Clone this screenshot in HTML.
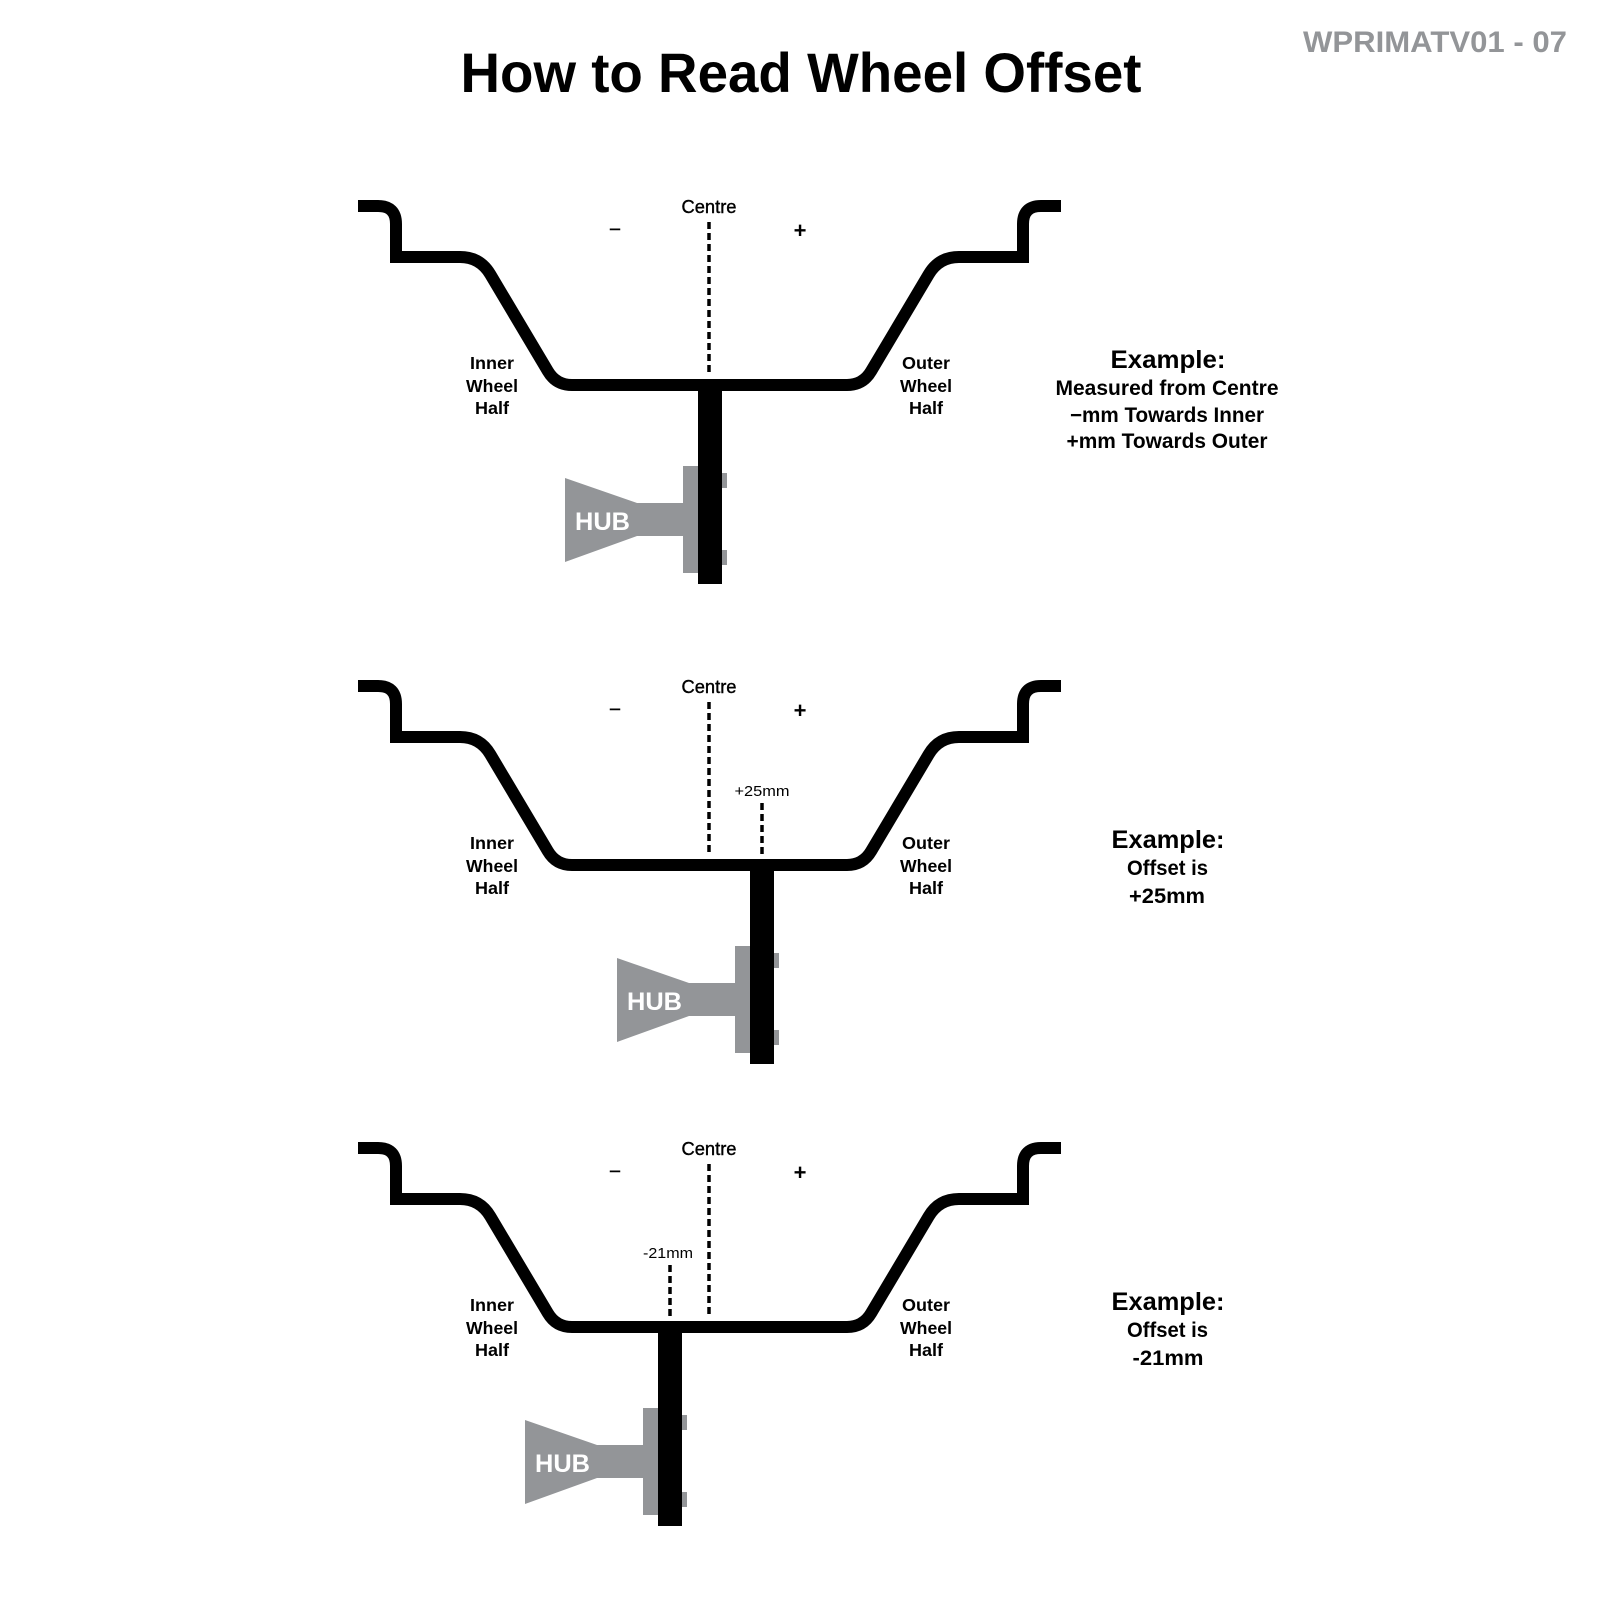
<!DOCTYPE html>
<html>
<head>
<meta charset="utf-8">
<style>
  html, body { margin: 0; padding: 0; background: #ffffff; }
  svg { display: block; }
  text { font-family: "Liberation Sans", "DejaVu Sans", sans-serif; }
  .b { font-weight: bold; }
</style>
</head>
<body>
<svg width="1600" height="1600" viewBox="0 0 1600 1600" xmlns="http://www.w3.org/2000/svg">
  <rect width="1600" height="1600" fill="#ffffff"/>

  <!-- Title -->
  <text x="801" y="92" font-size="56" class="b" text-anchor="middle" textLength="681" lengthAdjust="spacingAndGlyphs" fill="#000">How to Read Wheel Offset</text>
  <text x="1435" y="52" font-size="30" class="b" text-anchor="middle" textLength="264" lengthAdjust="spacingAndGlyphs" fill="#939598">WPRIMATV01 - 07</text>

  <!-- ================= Diagram 1 ================= -->
  <g transform="translate(0,0)">
    <path d="M358,206 L378,206 Q396,206 396,224 L396,257 L460,257 Q480,257 490.2,274.2 L547.9,371.2 Q556,385 572,385 L847,385 Q863,385 871.1,371.2 L928.8,274.2 Q939,257 959,257 L1023,257 L1023,224 Q1023,206 1041,206 L1061,206"
          fill="none" stroke="#000" stroke-width="12" stroke-linejoin="miter" stroke-miterlimit="10"/>
    <line x1="709" y1="222" x2="709" y2="375" stroke="#000" stroke-width="3.5" stroke-dasharray="7 4"/>
    <text x="709" y="213" font-size="18" text-anchor="middle" textLength="55" lengthAdjust="spacingAndGlyphs" fill="#000" stroke="#000" stroke-width="0.4">Centre</text>
    <text x="615" y="234" font-size="18" text-anchor="middle" fill="#000" stroke="#000" stroke-width="0.5">–</text>
    <text x="800" y="238" font-size="22" class="b" text-anchor="middle" fill="#000">+</text>

    <text x="492" y="369" font-size="17.5" class="b" text-anchor="middle" textLength="44" lengthAdjust="spacingAndGlyphs">Inner</text>
    <text x="492" y="392" font-size="17.5" class="b" text-anchor="middle" textLength="52" lengthAdjust="spacingAndGlyphs">Wheel</text>
    <text x="492" y="414" font-size="17.5" class="b" text-anchor="middle" textLength="34" lengthAdjust="spacingAndGlyphs">Half</text>
    <text x="926" y="369" font-size="17.5" class="b" text-anchor="middle" textLength="48" lengthAdjust="spacingAndGlyphs">Outer</text>
    <text x="926" y="392" font-size="17.5" class="b" text-anchor="middle" textLength="52" lengthAdjust="spacingAndGlyphs">Wheel</text>
    <text x="926" y="414" font-size="17.5" class="b" text-anchor="middle" textLength="34" lengthAdjust="spacingAndGlyphs">Half</text>

    <text x="1168" y="368" font-size="25" class="b" text-anchor="middle" textLength="115" lengthAdjust="spacingAndGlyphs">Example:</text>
    <text x="1167" y="395" font-size="21" class="b" text-anchor="middle" textLength="223" lengthAdjust="spacingAndGlyphs">Measured from Centre</text>
    <text x="1167" y="422" font-size="21" class="b" text-anchor="middle" textLength="194" lengthAdjust="spacingAndGlyphs">−mm Towards Inner</text>
    <text x="1167" y="448" font-size="21" class="b" text-anchor="middle" textLength="201" lengthAdjust="spacingAndGlyphs">+mm Towards Outer</text>

    <g transform="translate(0,0)">
      <polygon points="565,478 637,503 683,503 683,536 637,536 565,562" fill="#939598"/>
      <rect x="683" y="466" width="16" height="107" fill="#939598"/>
      <rect x="721" y="473" width="6" height="15" fill="#939598"/>
      <rect x="721" y="550" width="6" height="15" fill="#939598"/>
      <rect x="698" y="385" width="24" height="199" fill="#000"/>
      <text x="575" y="530" font-size="25" class="b" textLength="55" lengthAdjust="spacingAndGlyphs" fill="#ffffff">HUB</text>
    </g>
  </g>

  <!-- ================= Diagram 2 ================= -->
  <g transform="translate(0,480)">
    <path d="M358,206 L378,206 Q396,206 396,224 L396,257 L460,257 Q480,257 490.2,274.2 L547.9,371.2 Q556,385 572,385 L847,385 Q863,385 871.1,371.2 L928.8,274.2 Q939,257 959,257 L1023,257 L1023,224 Q1023,206 1041,206 L1061,206"
          fill="none" stroke="#000" stroke-width="12" stroke-linejoin="miter" stroke-miterlimit="10"/>
    <line x1="709" y1="222" x2="709" y2="375" stroke="#000" stroke-width="3.5" stroke-dasharray="7 4"/>
    <line x1="762" y1="323" x2="762" y2="375" stroke="#000" stroke-width="3.5" stroke-dasharray="7 4"/>
    <text x="709" y="213" font-size="18" text-anchor="middle" textLength="55" lengthAdjust="spacingAndGlyphs" fill="#000" stroke="#000" stroke-width="0.4">Centre</text>
    <text x="615" y="234" font-size="18" text-anchor="middle" fill="#000" stroke="#000" stroke-width="0.5">–</text>
    <text x="800" y="238" font-size="22" class="b" text-anchor="middle" fill="#000">+</text>
    <text x="762" y="316" font-size="15" text-anchor="middle" textLength="55" lengthAdjust="spacingAndGlyphs" fill="#000">+25mm</text>

    <text x="492" y="369" font-size="17.5" class="b" text-anchor="middle" textLength="44" lengthAdjust="spacingAndGlyphs">Inner</text>
    <text x="492" y="392" font-size="17.5" class="b" text-anchor="middle" textLength="52" lengthAdjust="spacingAndGlyphs">Wheel</text>
    <text x="492" y="414" font-size="17.5" class="b" text-anchor="middle" textLength="34" lengthAdjust="spacingAndGlyphs">Half</text>
    <text x="926" y="369" font-size="17.5" class="b" text-anchor="middle" textLength="48" lengthAdjust="spacingAndGlyphs">Outer</text>
    <text x="926" y="392" font-size="17.5" class="b" text-anchor="middle" textLength="52" lengthAdjust="spacingAndGlyphs">Wheel</text>
    <text x="926" y="414" font-size="17.5" class="b" text-anchor="middle" textLength="34" lengthAdjust="spacingAndGlyphs">Half</text>

    <text x="1168" y="368" font-size="25" class="b" text-anchor="middle" textLength="113" lengthAdjust="spacingAndGlyphs">Example:</text>
    <text x="1167.5" y="395" font-size="21" class="b" text-anchor="middle" textLength="81" lengthAdjust="spacingAndGlyphs">Offset is</text>
    <text x="1167" y="423" font-size="21" class="b" text-anchor="middle" textLength="76" lengthAdjust="spacingAndGlyphs">+25mm</text>

    <g transform="translate(52,0)">
      <polygon points="565,478 637,503 683,503 683,536 637,536 565,562" fill="#939598"/>
      <rect x="683" y="466" width="16" height="107" fill="#939598"/>
      <rect x="721" y="473" width="6" height="15" fill="#939598"/>
      <rect x="721" y="550" width="6" height="15" fill="#939598"/>
      <rect x="698" y="385" width="24" height="199" fill="#000"/>
      <text x="575" y="530" font-size="25" class="b" textLength="55" lengthAdjust="spacingAndGlyphs" fill="#ffffff">HUB</text>
    </g>
  </g>

  <!-- ================= Diagram 3 ================= -->
  <g transform="translate(0,942)">
    <path d="M358,206 L378,206 Q396,206 396,224 L396,257 L460,257 Q480,257 490.2,274.2 L547.9,371.2 Q556,385 572,385 L847,385 Q863,385 871.1,371.2 L928.8,274.2 Q939,257 959,257 L1023,257 L1023,224 Q1023,206 1041,206 L1061,206"
          fill="none" stroke="#000" stroke-width="12" stroke-linejoin="miter" stroke-miterlimit="10"/>
    <line x1="709" y1="222" x2="709" y2="375" stroke="#000" stroke-width="3.5" stroke-dasharray="7 4"/>
    <line x1="670" y1="323" x2="670" y2="375" stroke="#000" stroke-width="3.5" stroke-dasharray="7 4"/>
    <text x="709" y="213" font-size="18" text-anchor="middle" textLength="55" lengthAdjust="spacingAndGlyphs" fill="#000" stroke="#000" stroke-width="0.4">Centre</text>
    <text x="615" y="234" font-size="18" text-anchor="middle" fill="#000" stroke="#000" stroke-width="0.5">–</text>
    <text x="800" y="238" font-size="22" class="b" text-anchor="middle" fill="#000">+</text>
    <text x="668" y="316" font-size="15" text-anchor="middle" textLength="50" lengthAdjust="spacingAndGlyphs" fill="#000">-21mm</text>

    <text x="492" y="369" font-size="17.5" class="b" text-anchor="middle" textLength="44" lengthAdjust="spacingAndGlyphs">Inner</text>
    <text x="492" y="392" font-size="17.5" class="b" text-anchor="middle" textLength="52" lengthAdjust="spacingAndGlyphs">Wheel</text>
    <text x="492" y="414" font-size="17.5" class="b" text-anchor="middle" textLength="34" lengthAdjust="spacingAndGlyphs">Half</text>
    <text x="926" y="369" font-size="17.5" class="b" text-anchor="middle" textLength="48" lengthAdjust="spacingAndGlyphs">Outer</text>
    <text x="926" y="392" font-size="17.5" class="b" text-anchor="middle" textLength="52" lengthAdjust="spacingAndGlyphs">Wheel</text>
    <text x="926" y="414" font-size="17.5" class="b" text-anchor="middle" textLength="34" lengthAdjust="spacingAndGlyphs">Half</text>

    <text x="1168" y="368" font-size="25" class="b" text-anchor="middle" textLength="113" lengthAdjust="spacingAndGlyphs">Example:</text>
    <text x="1167.5" y="395" font-size="21" class="b" text-anchor="middle" textLength="81" lengthAdjust="spacingAndGlyphs">Offset is</text>
    <text x="1168" y="423" font-size="21" class="b" text-anchor="middle" textLength="71" lengthAdjust="spacingAndGlyphs">-21mm</text>

    <g transform="translate(-40,0)">
      <polygon points="565,478 637,503 683,503 683,536 637,536 565,562" fill="#939598"/>
      <rect x="683" y="466" width="16" height="107" fill="#939598"/>
      <rect x="721" y="473" width="6" height="15" fill="#939598"/>
      <rect x="721" y="550" width="6" height="15" fill="#939598"/>
      <rect x="698" y="385" width="24" height="199" fill="#000"/>
      <text x="575" y="530" font-size="25" class="b" textLength="55" lengthAdjust="spacingAndGlyphs" fill="#ffffff">HUB</text>
    </g>
  </g>
</svg>
</body>
</html>
